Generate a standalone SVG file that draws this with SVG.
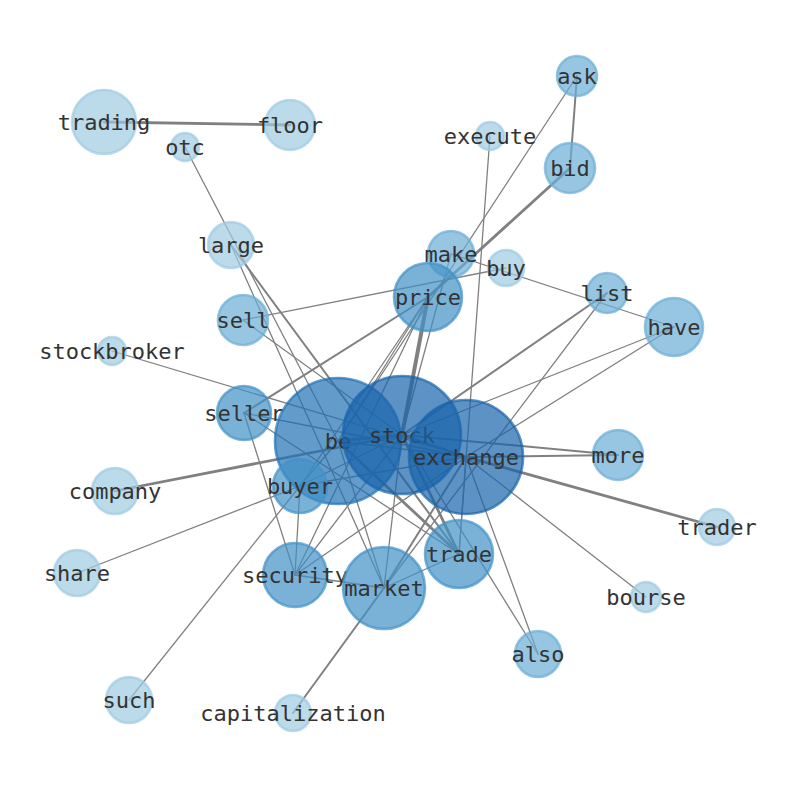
<svg xmlns="http://www.w3.org/2000/svg" width="794" height="790" viewBox="0 0 794 790">
<style>
.e{stroke:#808080;stroke-linecap:round;fill:none}
.t{stroke-width:1.3}
.m{stroke-width:2}
.k{stroke-width:2.8}
circle{stroke-width:2.6;fill-opacity:0.7;stroke-opacity:0.7}
.c1{fill:#9ecae1;stroke:#9ecae1}
.c2{fill:#6baed6;stroke:#6baed6}
.c3{fill:#4292c6;stroke:#4292c6}
.c4{fill:#2171b5;stroke:#2171b5}
.c5{fill:#1864ab;stroke:#1864ab}
text{font-family:"DejaVu Sans Mono",monospace;font-size:22px;fill:#333;text-anchor:middle}
</style>
<rect width="794" height="790" fill="#fff"/>
<g id="edges">
<line class="e k" x1="104" y1="122" x2="290" y2="125"/>
<line class="e t" x1="185" y1="147" x2="338" y2="441"/>
<line class="e m" x1="231" y1="245" x2="459" y2="554"/>
<line class="e t" x1="231" y1="245" x2="384" y2="588"/>
<line class="e t" x1="243" y1="320" x2="506" y2="268"/>
<line class="e t" x1="243" y1="320" x2="402" y2="435"/>
<line class="e t" x1="112" y1="351" x2="466" y2="457"/>
<line class="e m" x1="244" y1="413" x2="428" y2="297"/>
<line class="e t" x1="244" y1="413" x2="295" y2="575"/>
<line class="e t" x1="244" y1="413" x2="459" y2="554"/>
<line class="e t" x1="244" y1="413" x2="466" y2="457"/>
<line class="e m" x1="577" y1="76" x2="570" y2="168"/>
<line class="e t" x1="577" y1="76" x2="338" y2="441"/>
<line class="e k" x1="570" y1="168" x2="428" y2="297"/>
<line class="e t" x1="490" y1="136" x2="459" y2="554"/>
<line class="e t" x1="451" y1="254" x2="674" y2="327"/>
<line class="e t" x1="451" y1="254" x2="402" y2="435"/>
<line class="e" stroke-width="4" x1="428" y1="297" x2="402" y2="435"/>
<line class="e t" x1="428" y1="297" x2="300" y2="486"/>
<line class="e m" x1="607" y1="293" x2="402" y2="435"/>
<line class="e t" x1="607" y1="293" x2="384" y2="588"/>
<line class="e t" x1="674" y1="327" x2="402" y2="435"/>
<line class="e k" x1="115" y1="491" x2="402" y2="435"/>
<line class="e t" x1="77" y1="573" x2="300" y2="486"/>
<line class="e t" x1="129" y1="700" x2="300" y2="486"/>
<line class="e t" x1="300" y1="486" x2="295" y2="575"/>
<line class="e t" x1="300" y1="486" x2="466" y2="457"/>
<line class="e t" x1="295" y1="575" x2="402" y2="435"/>
<line class="e t" x1="295" y1="575" x2="466" y2="457"/>
<line class="e t" x1="295" y1="575" x2="384" y2="588"/>
<line class="e t" x1="295" y1="575" x2="428" y2="297"/>
<line class="e m" x1="293" y1="713" x2="384" y2="588"/>
<line class="e m" x1="466" y1="457" x2="384" y2="588"/>
<line class="e t" x1="338" y1="441" x2="384" y2="588"/>
<line class="e t" x1="402" y1="435" x2="384" y2="588"/>
<line class="e t" x1="384" y1="588" x2="459" y2="554"/>
<line class="e k" x1="338" y1="441" x2="459" y2="554"/>
<line class="e k" x1="402" y1="435" x2="459" y2="554"/>
<line class="e t" x1="466" y1="457" x2="459" y2="554"/>
<line class="e k" x1="338" y1="441" x2="402" y2="435"/>
<line class="e k" x1="402" y1="435" x2="466" y2="457"/>
<line class="e t" x1="338" y1="441" x2="466" y2="457"/>
<line class="e t" x1="338" y1="441" x2="300" y2="486"/>
<line class="e t" x1="338" y1="441" x2="428" y2="297"/>
<line class="e m" x1="402" y1="435" x2="618" y2="455"/>
<line class="e m" x1="466" y1="457" x2="618" y2="455"/>
<line class="e k" x1="466" y1="457" x2="717" y2="527"/>
<line class="e t" x1="466" y1="457" x2="646" y2="597"/>
<line class="e t" x1="466" y1="457" x2="538" y2="654"/>
<line class="e t" x1="402" y1="435" x2="538" y2="654"/>
<line class="e t" x1="466" y1="457" x2="674" y2="327"/>
<line class="e t" x1="402" y1="435" x2="300" y2="486"/>
</g>
<g id="node-trading"><circle class="c1" cx="104" cy="122" r="32"/><text x="104" y="129.5">trading</text></g>
<g id="node-floor"><circle class="c1" cx="290" cy="125" r="25"/><text x="290" y="132.5">floor</text></g>
<g id="node-otc"><circle class="c1" cx="185" cy="147" r="14"/><text x="185" y="154.5">otc</text></g>
<g id="node-execute"><circle class="c1" cx="490" cy="136" r="14"/><text x="490" y="143.5">execute</text></g>
<g id="node-ask"><circle class="c2" cx="577" cy="76" r="20"/><text x="577" y="83.5">ask</text></g>
<g id="node-bid"><circle class="c2" cx="570" cy="168" r="25"/><text x="570" y="175.5">bid</text></g>
<g id="node-large"><circle class="c1" cx="231" cy="245" r="23"/><text x="231" y="252.5">large</text></g>
<g id="node-make"><circle class="c2" cx="451" cy="254" r="23"/><text x="451" y="261.5">make</text></g>
<g id="node-buy"><circle class="c1" cx="506" cy="268" r="18"/><text x="506" y="275.5">buy</text></g>
<g id="node-price"><circle class="c3" cx="428" cy="297" r="34"/><text x="428" y="304.5">price</text></g>
<g id="node-list"><circle class="c2" cx="607" cy="293" r="20"/><text x="607" y="300.5">list</text></g>
<g id="node-have"><circle class="c2" cx="674" cy="327" r="29"/><text x="674" y="334.5">have</text></g>
<g id="node-sell"><circle class="c2" cx="243" cy="320" r="25"/><text x="243" y="327.5">sell</text></g>
<g id="node-stockbroker"><circle class="c1" cx="112" cy="351" r="14"/><text x="112" y="358.5">stockbroker</text></g>
<g id="node-seller"><circle class="c3" cx="244" cy="413" r="27"/><text x="244" y="420.5">seller</text></g>
<g id="node-be"><circle class="c4" cx="338" cy="441" r="63"/><text x="338" y="448.5">be</text></g>
<g id="node-stock"><circle class="c5" cx="402" cy="435" r="59"/><text x="402" y="442.5">stock</text></g>
<g id="node-exchange"><circle class="c5" cx="466" cy="457" r="57"/><text x="466" y="464.5">exchange</text></g>
<g id="node-more"><circle class="c2" cx="618" cy="455" r="25"/><text x="618" y="462.5">more</text></g>
<g id="node-company"><circle class="c1" cx="115" cy="491" r="23"/><text x="115" y="498.5">company</text></g>
<g id="node-buyer"><circle class="c3" cx="300" cy="486" r="27"/><text x="300" y="493.5">buyer</text></g>
<g id="node-trader"><circle class="c1" cx="717" cy="527" r="18"/><text x="717" y="534.5">trader</text></g>
<g id="node-trade"><circle class="c3" cx="459" cy="554" r="34"/><text x="459" y="561.5">trade</text></g>
<g id="node-share"><circle class="c1" cx="77" cy="573" r="23"/><text x="77" y="580.5">share</text></g>
<g id="node-security"><circle class="c3" cx="295" cy="575" r="32"/><text x="295" y="582.5">security</text></g>
<g id="node-market"><circle class="c3" cx="384" cy="588" r="41"/><text x="384" y="595.5">market</text></g>
<g id="node-bourse"><circle class="c1" cx="646" cy="597" r="15"/><text x="646" y="604.5">bourse</text></g>
<g id="node-also"><circle class="c2" cx="538" cy="654" r="23"/><text x="538" y="661.5">also</text></g>
<g id="node-such"><circle class="c1" cx="129" cy="700" r="23"/><text x="129" y="707.5">such</text></g>
<g id="node-capitalization"><circle class="c1" cx="293" cy="713" r="18"/><text x="293" y="720.5">capitalization</text></g>
</svg>
